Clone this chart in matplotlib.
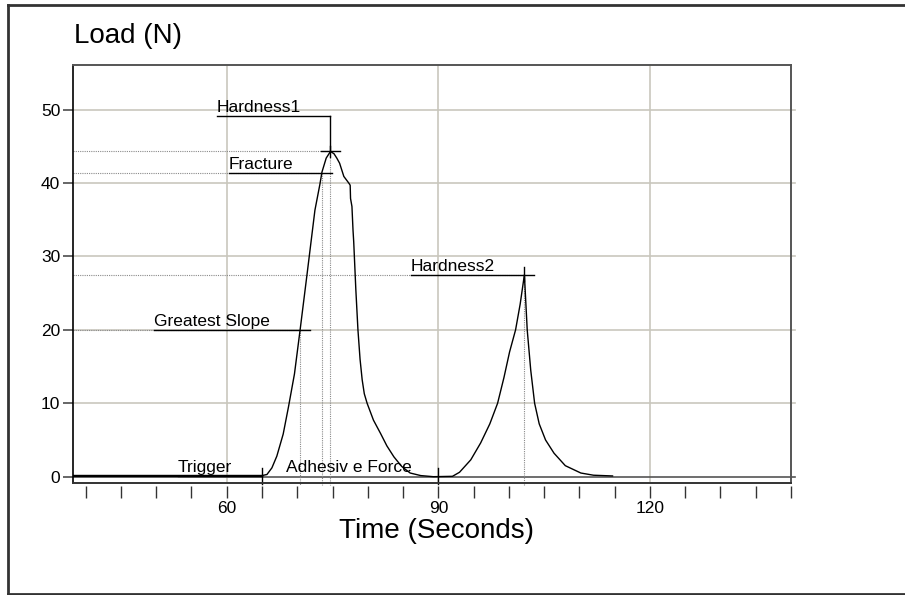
import matplotlib as mpl
mpl.use('Agg')
import matplotlib.pyplot as plt
from matplotlib.lines import Line2D
import matplotlib.transforms as mtransforms

plt.rcParams['font.family'] = ['Liberation Sans', 'DejaVu Sans']

# ------- curve (time s, load N) -----------------------------
time = [38.2, 50.0, 65.0, 65.7, 66.4, 67.1, 68.0, 68.75, 69.6, 70.4, 71.4, 72.5,
        73.2, 73.5, 74.1, 74.7, 75.2, 75.6, 76.0, 76.6, 77.3, 77.5, 77.55, 77.75,
        77.9, 78.0, 78.3, 78.6, 78.9, 79.2, 79.5, 79.9, 80.8, 81.8, 82.7, 83.7,
        84.8, 86.0, 87.5, 89.3,
        92.0, 93.0, 94.6, 96.0, 97.3, 98.4, 99.3, 100.1, 100.95, 101.6, 102.2,
        102.6, 103.1, 103.65, 104.3, 105.2, 106.4, 108.0, 110.2, 112.0, 114.7]
load = [0.15, 0.15, 0.15, 0.3, 1.2, 2.8, 5.8, 9.5, 14.0, 20.0, 27.7, 36.3,
        39.8, 41.5, 43.4, 44.3, 44.0, 43.4, 42.7, 40.9, 40.0, 39.7, 37.9, 36.8,
        33.6, 32.0, 25.5, 20.0, 16.0, 13.2, 11.3, 10.0, 7.7, 5.9, 4.2, 2.7,
        1.4, 0.5, 0.15, 0.0,
        0.05, 0.6, 2.3, 4.6, 7.2, 10.0, 13.5, 17.0, 20.0, 23.5, 27.5,
        20.0, 14.5, 10.0, 7.2, 5.0, 3.2, 1.5, 0.5, 0.2, 0.1]

# ------- annotated points: name, x, y, label line --------
marker_names = ['Hardness1', 'Fracture', 'Greatest Slope', 'Hardness2']
marker_x = [74.7, 73.5, 70.4, 102.2]
marker_y = [44.3, 41.4, 20.0, 27.5]
label_start = [58.6, 60.3, 49.7, 86.1]
label_end = [74.7, 74.9, 71.8, 103.55]
label_y = [49.2, 41.4, 20.0, 27.5]

trigger_x = 65.0
adhesive_x = 90.0

xlim = (38.2, 140.0)
ylim = (-0.86, 56.08)
xticks = list(range(40, 141, 5))
xlabeled = [60, 90, 120]
yticks = [0, 10, 20, 30, 40, 50]

W, H = 905, 595
fig = plt.figure(figsize=(W / 100, H / 100), dpi=100)
ax = fig.add_axes([73 / W, 1 - 483 / H, (791 - 73) / W, (483 - 65) / H])
ax.set_xlim(xlim)
ax.set_ylim(ylim)

gridc = '#c9c7bd'
for v in xlabeled:
    ax.axvline(v, color=gridc, lw=1.2, zorder=0)
for v in yticks[1:]:
    ax.axhline(v, xmin=0, xmax=1.006, color=gridc, lw=1.2, zorder=0, clip_on=False)
ax.axhline(0, xmin=0, xmax=1.006, color='#555555', lw=1.2, zorder=1, clip_on=False)

# dotted guides to the marked points
dot = dict(color='#8a8a8a', lw=0.8, ls=(0, (1, 1)), zorder=1)
for mx, my in zip(marker_x, marker_y):
    ax.plot([xlim[0], mx], [my, my], **dot)
    ax.plot([mx, mx], [my, -1.13], clip_on=False, **dot)

# curve
ax.plot(time, load, color='black', lw=1.0, zorder=3)
ax.plot([xlim[0], trigger_x], [0.12, 0.12], color='black', lw=1.6, zorder=3)

# label lines and text
for name, mx, my, x0, x1, ly in zip(marker_names, marker_x, marker_y,
                                     label_start, label_end, label_y):
    ax.plot([x0, x1], [ly, ly], color='black', lw=1.0, zorder=4)
    ax.annotate(name, (x0, ly), xytext=(0, 2.5), textcoords='offset points',
                fontsize=12.5, va='baseline', ha='left')
    if ly != my:
        ax.plot([mx, mx], [ly, my], color='black', lw=1.0, zorder=4)

# crosshairs at peaks
ax.plot([marker_x[0] - 1.3, marker_x[0] + 1.3], [marker_y[0]] * 2, color='black', lw=1.0, zorder=4)
ax.plot([marker_x[0]] * 2, [marker_y[0] - 0.8, marker_y[0] + 0.8], color='black', lw=1.0, zorder=4)
ax.plot([marker_x[3]] * 2, [marker_y[3] - 0.8, marker_y[3] + 1.1], color='black', lw=1.0, zorder=4)

# trigger / adhesive force
ax.plot([53.1, trigger_x], [0.15, 0.15], color='black', lw=1.0, zorder=4)
ax.annotate('Trigger', (53.1, 0.15), xytext=(0, 2.5), textcoords='offset points',
            fontsize=12.5, va='baseline', ha='left')
ax.annotate('Adhesiv e Force', (68.4, 0.15), xytext=(0, 2.5), textcoords='offset points',
            fontsize=12.5, va='baseline', ha='left')
for mx in [trigger_x, adhesive_x]:
    ax.plot([mx, mx], [1.2, -1.0], color='black', lw=1.0, zorder=4, clip_on=False)

# axes frame
for s in ['top', 'right']:
    ax.spines[s].set_color('#555555')
    ax.spines[s].set_linewidth(1.4)
ax.spines['left'].set_color('black')
ax.spines['left'].set_linewidth(1.2)
ax.spines['bottom'].set_visible(False)
ax.plot([0, 1], [0, 0], transform=ax.transAxes, color='#333333', lw=1.4, clip_on=False, zorder=5)

# x ticks hang below the frame with a small gap
ax.spines['bottom'].set_position(('outward', 2.2))
ax.set_xticks(xticks)
ax.set_xticklabels([str(t) if t in xlabeled else '' for t in xticks], fontsize=12.5)
ax.tick_params(axis='x', direction='out', length=8.6, width=1.0, color='#333333', pad=2.5)
ax.set_yticks(yticks)
ax.set_yticklabels([str(t) for t in yticks], fontsize=12.5)
ax.tick_params(axis='y', direction='out', length=7.2, width=1.4, color='#666666', pad=2)

# titles
fig.text(74 / W, 1 - 43 / H, 'Load (N)', fontsize=20, ha='left', va='baseline')
fig.text(436 / W, 1 - 538 / H, 'Time (Seconds)', fontsize=20, ha='center', va='baseline')

# outer border (open on the right)
px = mtransforms.Affine2D().scale(1 / W, -1 / H).translate(0, 1) + fig.transFigure
fig.add_artist(Line2D([8, 8], [5, 594], transform=px, color='#333333', lw=2))
fig.add_artist(Line2D([8, W + 5], [5, 5], transform=px, color='#333333', lw=2))
fig.add_artist(Line2D([8, W + 5], [594, 594], transform=px, color='#333333', lw=2))

fig.savefig('out.png', dpi=100)
